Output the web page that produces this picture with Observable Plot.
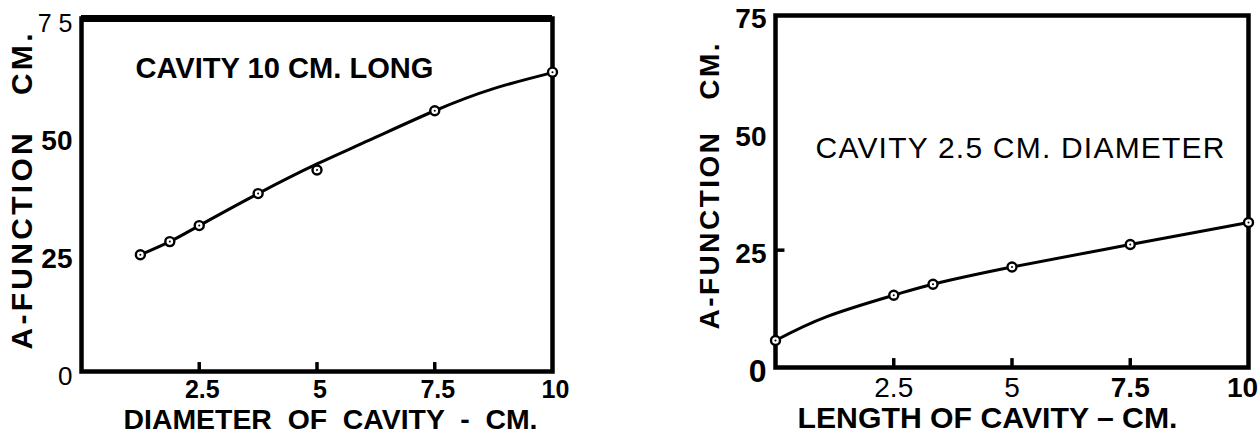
<!DOCTYPE html>
<html><head><meta charset="utf-8">
<script src="https://cdn.jsdelivr.net/npm/d3@7"></script>
<script src="https://cdn.jsdelivr.net/npm/@observablehq/plot@0.6"></script>
<style>
body{margin:0;background:#fff;}
#wrap{display:flex;width:1259px;height:433px;}
#wrap svg{display:block;flex:none;}
</style></head><body><div id="wrap"></div>
<script>
// ---- Left panel: cavity 10 cm long ----
const diameter = [1.25, 1.875, 2.5, 3.75, 5, 7.5, 10];
const aFunctionByDiameter = [24.8, 27.6, 31.0, 37.8, 42.8, 55.4, 63.6];
const diameterCurveX = [1.25, 1.875, 2.5, 3.75, 5, 6.1, 7.5, 8.75, 10];
const diameterCurveY = [24.8, 27.6, 31.0, 37.8, 44.1, 49.1, 55.4, 60.1, 63.5];
const leftXTicks = [2.5, 5, 7.5, 10];
const leftXTickLabels = ["2.5", "5", "7.5", "10"];
const leftInnerTicks = [2.5, 5, 7.5];
const leftYTicks = [0, 25, 50, 75];
const leftYTickLabels = ["0", "25", "50", "7 5"];
const leftXTitle = "DIAMETER  OF  CAVITY  -  CM.";
const leftYTitle = "A-FUNCTION   CM.";
const leftNote = "CAVITY 10 CM. LONG";

// ---- Right panel: cavity 2.5 cm diameter ----
const cavityLength = [0, 2.5, 3.33, 5, 7.5, 10];
const aFunctionByLength = [5.75, 15.4, 17.75, 21.4, 26.2, 30.9];
const lengthCurveX = [0, 1.1, 2.5, 3.33, 5, 7.5, 10];
const lengthCurveY = [5.75, 10.9, 15.4, 17.75, 21.4, 26.2, 30.9];
const rightXTicks = [2.5, 5, 7.5, 10];
const rightXTickLabels = ["2.5", "5", "7.5", "10"];
const rightInnerXTicks = [2.5, 5, 7.5];
const rightInnerYTicks = [25];
const rightYTicks = [0, 25, 50, 75];
const rightYTickLabels = ["0", "25", "50", "75"];
const rightXTitle = "LENGTH OF CAVITY \u2013 CM.";
const rightYTitle = "A-FUNCTION   CM.";
const rightNote = "CAVITY 2.5 CM. DIAMETER";

const font = "'Liberation Sans', Arial, Helvetica, sans-serif";
const pts = (xs, ys) => xs.map((x, i) => ({x, y: ys[i]}));
const fmt = (ticks, labels) => d => labels[ticks.indexOf(d)];

function panel(o) {
  return Plot.plot({
    width: o.width, height: 433,
    marginLeft: o.ml, marginRight: o.mr, marginTop: o.mt, marginBottom: o.mb,
    style: {fontFamily: font, background: "white", color: "black", overflow: "visible"},
    x: {domain: [0, 10]},
    y: {domain: [0, 75]},
    marks: [
      Plot.frame({stroke: "black", strokeWidth: 4.5}),
      ...(o.extra || []),
      Plot.ruleX(o.innerX, {y1: 0, y2: 1.9, stroke: "black", strokeWidth: 3.5}),
      Plot.axisX({ticks: o.xTicks, tickFormat: fmt(o.xTicks, o.xLabels), tickSize: 0, tickPadding: o.xPad,
        fontSize: o.xFont, fontWeight: "bold", dx: o.xdx, label: null}),
      Plot.axisY({ticks: o.yTicks, tickFormat: fmt(o.yTicks, o.yLabels), tickSize: 0, tickPadding: 9,
        fontSize: 28, fontWeight: "bold", dy: o.ydy, label: null}),
      Plot.line(pts(o.cx, o.cy), {x: "x", y: "y", curve: "natural", stroke: "black", strokeWidth: 3}),
      Plot.dot(pts(o.px, o.py), {x: "x", y: "y", r: 4.5, fill: "white", stroke: "black", strokeWidth: 2.4}),
      Plot.dot(pts(o.px, o.py), {x: "x", y: "y", r: 1, fill: "black"}),
      Plot.text([o.xTitle], {text: d => d, frameAnchor: "bottom", textAnchor: "middle", lineAnchor: "middle",
        dx: o.xtdx, dy: o.xtdy, fontSize: o.xtFont, fontWeight: "bold"}),
      Plot.text([o.yTitle], {text: d => d, frameAnchor: "left", textAnchor: "middle", lineAnchor: "middle",
        rotate: -90, dx: o.ytdx, dy: o.ytdy, fontSize: o.ytFont, fontWeight: "bold"}),
      Plot.text([o.note], {text: d => d, frameAnchor: "top", textAnchor: "middle", lineAnchor: "middle",
        dx: o.ndx, dy: o.ndy, fontSize: o.nFont, fontWeight: o.nWeight})
    ]
  });
}

function fit(svg, txt, len, adjust, styles, attrs) {
  d3.select(svg).selectAll("text").filter(function() { return this.textContent === txt; })
    .each(function() {
      const s = d3.select(this);
      if (len) s.attr("textLength", len).attr("lengthAdjust", adjust || "spacingAndGlyphs");
      if (styles) for (const k in styles) s.style(k, styles[k]);
      if (attrs) for (const k in attrs) s.attr(k, attrs[k]);
    });
}

const left = panel({
  width: 640, ml: 81, mr: 88, mt: 18, mb: 62,
  extra: [Plot.ruleY([75], {stroke: "black", strokeWidth: 7})],
  innerX: leftInnerTicks, xTicks: leftXTicks, xLabels: leftXTickLabels, xPad: 9, xFont: 25, xdx: 3,
  yTicks: leftYTicks, yLabels: leftYTickLabels, ydy: 5,
  cx: diameterCurveX, cy: diameterCurveY, px: diameter, py: aFunctionByDiameter,
  xTitle: leftXTitle, xtdx: 13.5, xtdy: 48.5, xtFont: 28,
  yTitle: leftYTitle, ytdx: -59, ytdy: -3.5, ytFont: 30,
  note: leftNote, ndx: -32.5, ndy: 50.7, nFont: 29, nWeight: "bold"
});
fit(left, leftXTitle, 414);
fit(left, leftYTitle, 316, "spacing");
fit(left, leftNote, 298);
fit(left, "7 5", null, null, {"font-weight": "normal", "font-size": "25px"});
fit(left, "0", null, null, {"font-weight": "normal", "font-size": "26px"});

const right = panel({
  width: 619, ml: 135, mr: 11, mt: 15, mb: 66,
  extra: [Plot.ruleY(rightInnerYTicks, {x1: 0, x2: 0.2, stroke: "black", strokeWidth: 3.5})],
  innerX: rightInnerXTicks, xTicks: rightXTicks, xLabels: rightXTickLabels, xPad: 10, xFont: 28, xdx: 0,
  yTicks: rightYTicks, yLabels: rightYTickLabels, ydy: 4,
  cx: lengthCurveX, cy: lengthCurveY, px: cavityLength, py: aFunctionByLength,
  xTitle: rightXTitle, xtdx: -24.5, xtdy: 50.5, xtFont: 30,
  yTitle: rightYTitle, ytdx: -65, ytdy: -5, ytFont: 28,
  note: rightNote, ndx: 8, ndy: 132.4, nFont: 30, nWeight: "normal"
});
fit(right, rightXTitle, 380);
fit(right, rightYTitle, 286, "spacing");
fit(right, rightNote, 409, "spacing");
fit(right, "0", null, null, {"font-size": "32px"});
fit(right, "2.5", null, null, {"font-weight": "normal"});
fit(right, "5", null, null, {"font-weight": "normal"});
fit(right, "10", null, null, null, {"dx": "-6"});

document.getElementById("wrap").append(left, right);
</script></body></html>
